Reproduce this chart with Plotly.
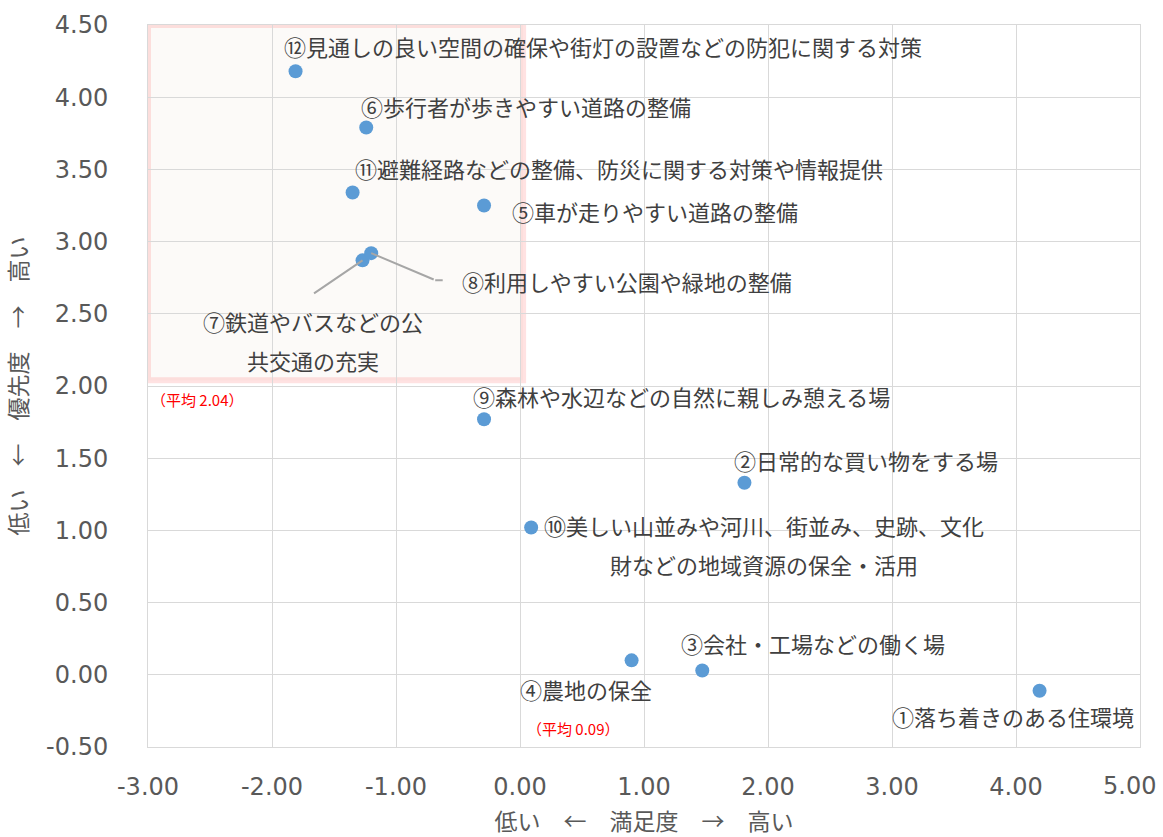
import plotly.graph_objects as go

# 満足度 (x) と 優先度 (y)
labels = [
    "①落ち着きのある住環境",
    "②日常的な買い物をする場",
    "③会社・工場などの働く場",
    "④農地の保全",
    "⑤車が走りやすい道路の整備",
    "⑥歩行者が歩きやすい道路の整備",
    "⑦鉄道やバスなどの公<br>共交通の充実",
    "⑧利用しやすい公園や緑地の整備",
    "⑨森林や水辺などの自然に親しみ憩える場",
    "⑩美しい山並みや河川、街並み、史跡、文化<br>財などの地域資源の保全・活用",
    "⑪避難経路などの整備、防災に関する対策や情報提供",
    "⑫見通しの良い空間の確保や街灯の設置などの防犯に関する対策",
]
satisfaction = [4.19, 1.81, 1.47, 0.90, -0.29, -1.24, -1.27, -1.20, -0.29, 0.09, -1.35, -1.81]
priority = [-0.11, 1.33, 0.03, 0.10, 3.25, 3.79, 2.87, 2.92, 1.77, 1.02, 3.34, 4.18]

avg_x = 0.09
avg_y = 2.04

x_ticks = [-3, -2, -1, 0, 1, 2, 3, 4, 5]
x_ticktext = ["-3.00", "-2.00", "-1.00", "0.00", "1.00", "2.00", "3.00", "4.00", "5.00"]
y_ticks = [-0.5, 0, 0.5, 1, 1.5, 2, 2.5, 3, 3.5, 4, 4.5]
y_ticktext = ["-0.50", "0.00", "0.50", "1.00", "1.50", "2.00", "2.50", "3.00", "3.50", "4.00", "4.50"]

# label offsets from each point, in pixels (dx right, dy up), first line
label_shift = [
    (-27, -25), (122, 23), (111, 27), (-46, -29), (171, -5), (160, 22),
    (-50, -61), (256, -28), (197, 23), (233, 3), (266, 25), (307, 25),
]
line_gap = 39

fig = go.Figure()

# 注目エリア
fig.add_shape(type="rect", x0=-3, x1=0.025, y0=avg_y, y1=4.5,
              line=dict(color="rgba(255,110,110,0.2)", width=6),
              fillcolor="rgba(248,243,240,0.45)", layer="below")

fig.add_trace(go.Scatter(
    x=satisfaction, y=priority, mode="markers",
    marker=dict(color="#5b9bd5", size=14),
    hoverinfo="skip",
))

for i, txt in enumerate(labels):
    dx, dy = label_shift[i]
    for j, line in enumerate(txt.split("<br>")):
        fig.add_annotation(x=satisfaction[i], y=priority[i], text=line, showarrow=False,
                           xshift=dx, yshift=dy - j * line_gap,
                           font=dict(family="Noto Sans CJK JP", size=22, color="#404040"))

# leader lines for ⑦ and ⑧
fig.add_annotation(x=satisfaction[6], y=priority[6], ax=-50, ay=34, text="",
                   showarrow=True, arrowhead=0, arrowwidth=2, arrowcolor="#a6a6a6",
                   axref="pixel", ayref="pixel", standoff=0, startstandoff=0)
fig.add_annotation(x=satisfaction[7], y=priority[7], ax=64, ay=27, text="",
                   showarrow=True, arrowhead=0, arrowwidth=2, arrowcolor="#a6a6a6",
                   axref="pixel", ayref="pixel", standoff=0)
fig.add_annotation(x=satisfaction[7], y=priority[7], xshift=64, yshift=-27, ax=9, ay=0, text="",
                   showarrow=True, arrowhead=0, arrowwidth=2, arrowcolor="#a6a6a6",
                   axref="pixel", ayref="pixel", standoff=0)

# 平均値
fig.add_annotation(x=-3, y=avg_y, text="（平均 2.04）", showarrow=False, xanchor="left",
                   xshift=1, yshift=-19,
                   font=dict(family="Noto Sans CJK JP", size=15, color="#ff0000"))
fig.add_annotation(x=avg_x, y=-0.5, text="（平均 0.09）", showarrow=False, xanchor="left",
                   xshift=-6, yshift=19,
                   font=dict(family="Noto Sans CJK JP", size=15, color="#ff0000"))

# last x tick label pulled inside the page edge, like the original
fig.add_annotation(x=x_ticks[-1], y=0, yref="paper", text=x_ticktext[-1], showarrow=False,
                   xanchor="right", yanchor="middle", xshift=18, yshift=-39,
                   font=dict(family="DejaVu Sans", size=24, color="#595959"))

fig.update_layout(
    width=1163, height=837,
    margin=dict(l=148, r=23, t=25, b=90),
    plot_bgcolor="white", paper_bgcolor="white",
    showlegend=False,
    font=dict(family="DejaVu Sans", size=24, color="#595959"),
)
fig.update_xaxes(
    range=[-3, 5], tickvals=x_ticks[:-1], ticktext=x_ticktext[:-1], automargin=False,
    showgrid=True, gridcolor="#d9d9d9", gridwidth=1,
    zeroline=False, showline=True, linecolor="#d9d9d9", mirror=True,
    ticks="", ticklabelstandoff=18,
    title=dict(text="低い　←　満足度　→　高い", standoff=14,
               font=dict(family="Noto Sans CJK JP", size=23, color="#595959")),
)
fig.update_yaxes(
    range=[-0.5, 4.5], tickvals=y_ticks, ticktext=y_ticktext, automargin=False,
    showgrid=True, gridcolor="#d9d9d9", gridwidth=1,
    zeroline=False, showline=True, linecolor="#d9d9d9", mirror=True,
    ticks="", ticklabelstandoff=34,
    title=dict(text="低い　←　優先度　→　高い", standoff=18,
               font=dict(family="Noto Sans CJK JP", size=23, color="#595959")),
)

fig.write_html("out.html", config={"displayModeBar": False},
               post_script="document.body.style.margin='0';")
